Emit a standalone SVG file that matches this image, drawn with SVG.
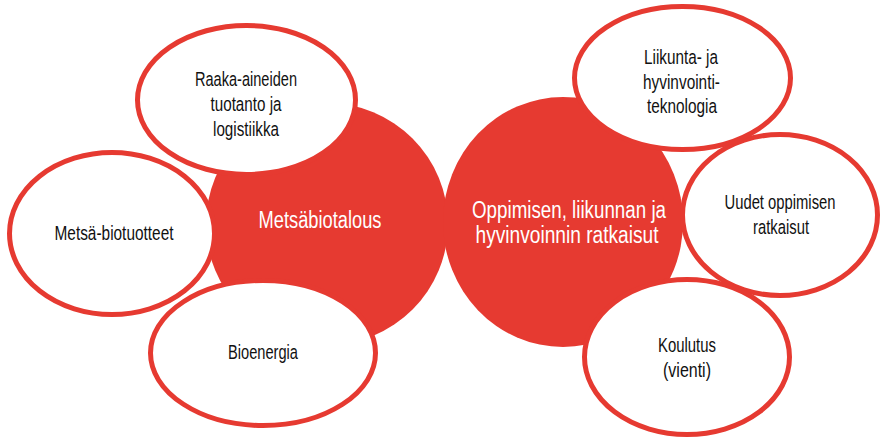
<svg xmlns="http://www.w3.org/2000/svg" width="882" height="440" viewBox="0 0 882 440">
<style>
.hub{fill:#E63A31;stroke:none}
.leaf{fill:#FFFFFF;stroke:#E63A31;stroke-width:5}
.t{font-family:"Liberation Sans Narrow","Liberation Sans",Arial,sans-serif;font-size:20.5px;fill:#111111;text-anchor:middle}
.w{font-family:"Liberation Sans Narrow","Liberation Sans",Arial,sans-serif;font-size:23px;fill:#FFFFFF;text-anchor:middle}
</style>
<rect width="882" height="440" fill="#FFFFFF"/>
<g id="hub-metsabiotalous">
<ellipse class="hub" cx="327" cy="224" rx="121" ry="121"/>
</g>
<g id="hub-oppimisen">
<ellipse class="hub" cx="563" cy="222" rx="120" ry="125"/>
</g>
<g id="hub-metsabiotalous-label">
<text class="w" x="320" y="228" textLength="123" lengthAdjust="spacingAndGlyphs">Metsäbiotalous</text>
</g>
<g id="hub-oppimisen-label">
<text class="w" x="569" y="218" textLength="194" lengthAdjust="spacingAndGlyphs">Oppimisen, liikunnan ja</text>
<text class="w" x="567" y="243" textLength="183" lengthAdjust="spacingAndGlyphs">hyvinvoinnin ratkaisut</text>
</g>
<g id="node-metsa-biotuotteet">
<ellipse class="leaf" cx="112" cy="233.5" rx="102.5" ry="81"/>
<text class="t" x="114" y="240" textLength="119" lengthAdjust="spacingAndGlyphs">Metsä-biotuotteet</text>
</g>
<g id="node-raaka-aineiden">
<ellipse class="leaf" cx="246.5" cy="100" rx="109" ry="74.5"/>
<text class="t" x="246" y="86" textLength="102" lengthAdjust="spacingAndGlyphs">Raaka-aineiden</text>
<text class="t" x="246" y="111" textLength="71" lengthAdjust="spacingAndGlyphs">tuotanto ja</text>
<text class="t" x="246" y="136" textLength="66" lengthAdjust="spacingAndGlyphs">logistiikka</text>
</g>
<g id="node-bioenergia">
<ellipse class="leaf" cx="263" cy="353" rx="112.5" ry="72.5"/>
<text class="t" x="263" y="359" textLength="70" lengthAdjust="spacingAndGlyphs">Bioenergia</text>
</g>
<g id="node-uudet-oppimisen">
<ellipse class="leaf" cx="780" cy="215" rx="97.5" ry="80.5"/>
<text class="t" x="780" y="209" textLength="111" lengthAdjust="spacingAndGlyphs">Uudet oppimisen</text>
<text class="t" x="781" y="234" textLength="56" lengthAdjust="spacingAndGlyphs">ratkaisut</text>
</g>
<g id="node-liikunta">
<ellipse class="leaf" cx="682.5" cy="78" rx="108" ry="71.5"/>
<text class="t" x="681" y="64" textLength="74" lengthAdjust="spacingAndGlyphs">Liikunta- ja</text>
<text class="t" x="681.5" y="89" textLength="77" lengthAdjust="spacingAndGlyphs">hyvinvointi-</text>
<text class="t" x="682" y="113" textLength="70" lengthAdjust="spacingAndGlyphs">teknologia</text>
</g>
<g id="node-koulutus">
<ellipse class="leaf" cx="687" cy="357" rx="102.5" ry="77.5"/>
<text class="t" x="687" y="352" textLength="58" lengthAdjust="spacingAndGlyphs">Koulutus</text>
<text class="t" x="687" y="377" textLength="48" lengthAdjust="spacingAndGlyphs">(vienti)</text>
</g>
</svg>
